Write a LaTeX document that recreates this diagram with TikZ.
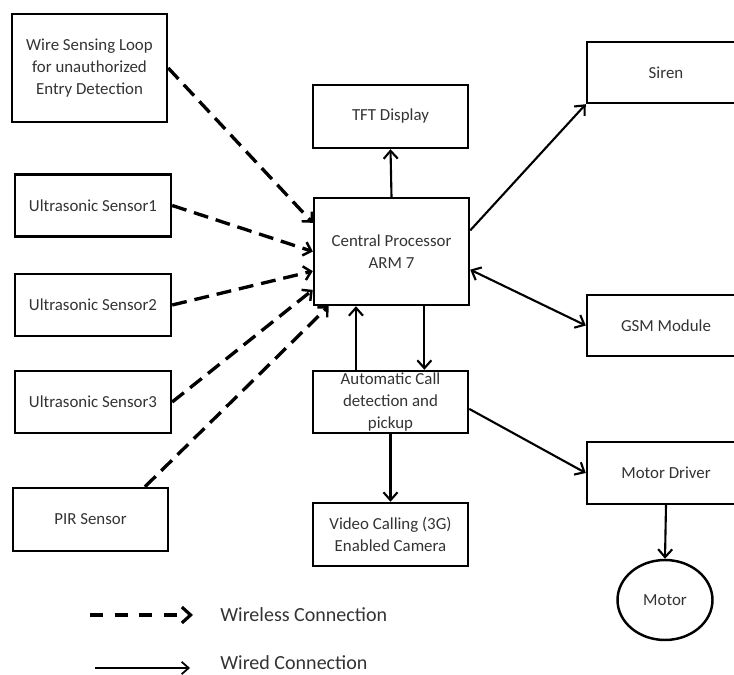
\documentclass[tikz,border=0pt]{standalone}
\usepackage{fontspec}
\setmainfont{Carlito}
\usetikzlibrary{arrows.meta,shapes.geometric}

\tikzset{
  blk/.style={draw, line width=1.4pt, minimum width=3.1cm, minimum height=1.24cm,
    align=center, inner sep=1pt, text=black!80, font=\fontsize{9.6}{12.4}\selectfont},
  wless/.style={dash pattern=on 8.5pt off 4.5pt, line width=1.9pt,
    -{Straight Barb[length=4pt,width=8pt,line width=1.4pt]}},
  wired/.style={line width=1.2pt, -{Straight Barb[length=4.5pt,width=8pt]}},
  lgd/.style={anchor=west, inner sep=0pt, text=black!80, font=\fontsize{11.4}{13}\selectfont},
}

\begin{document}
\begin{tikzpicture}[x=0.02cm, y=-0.02cm]
  \useasboundingbox (0,0) rectangle (734,675);

  % sensors
  \node[blk, minimum height=2.16cm] at (89.5,68) (loop) {Wire Sensing Loop\\for unauthorized\\Entry Detection};
  \node[blk, minimum width=3.12cm] at (93,205.5) (us1) {Ultrasonic Sensor1};
  \node[blk, minimum width=3.12cm] at (93,305) (us2) {Ultrasonic Sensor2};
  \node[blk, minimum width=3.12cm] at (93,402) (us3) {Ultrasonic Sensor3};
  \node[blk, minimum height=1.26cm] at (90.5,519.5) (pir) {PIR Sensor};

  % middle column
  \node[blk, minimum height=1.26cm] at (390.5,116.5) (tft) {TFT Display};
  \node[blk, minimum height=2.14cm] at (391.5,251.5) (cpu) {Central Processor\\ARM 7};
  \node[blk] at (390.5,402) (call) {Automatic Call\\detection and\\pickup};
  \node[blk, minimum height=1.26cm] at (390.5,534.5) (cam) {Video Calling (3G)\\Enabled Camera};

  % outputs
  \node[blk, minimum width=3.16cm, minimum height=1.22cm] at (666,72.5) (siren) {Siren};
  \node[blk, minimum width=3.16cm, minimum height=1.22cm] at (666,325.5) (gsm) {GSM Module};
  \node[blk, minimum width=3.16cm] at (666,473) (drv) {Motor Driver};
  \node[blk, ellipse, minimum width=1.9cm, minimum height=1.6cm] at (665,600) (motor) {Motor};

  % wireless links
  \draw [wless] (loop.east) -- (cpu.160);
  \draw [wless] (us1.east) -- (cpu.west);
  \draw [wless] (us2.east) -- (cpu.194);
  \draw [wless] (us3.east) -- (cpu.206);
  \draw [wless] (pir.31) -- (cpu.221);

  % wired links
  \draw [wired] (cpu.north) -- (tft.south);
  \draw [wired] (cpu.15) -- (siren.south west);
  \draw [wired, {Straight Barb[length=4.5pt,width=8pt]}-{Straight Barb[length=4.5pt,width=8pt]}] (cpu.-13) -- (gsm.west);
  \draw [wired] (call.137) -- (call.137 |- cpu.south);
  \draw [wired] (cpu.-59) -- (cpu.-59 |- call.north);
  \draw [wired] (call.south) -- (cam.north);
  \draw [wired] (call.-5) -- (drv.west);
  \draw [wired] (drv.south) -- (motor.north);

  % legend
  \coordinate (a0) at (90,615);
  \coordinate (a1) at (193,615);
  \coordinate (b0) at (95,668);
  \coordinate (b1) at (190,668);
  \node[lgd] at (220,615) (wl) {Wireless Connection};
  \node[lgd] at (220,663) (dl) {Wired Connection};
  \draw [line width=2.2pt, dash pattern=on 7.5pt off 6.5pt,
    -{Straight Barb[length=5pt,width=9pt,line width=1.8pt]}] (a0) -- (a1);
  \draw [line width=1pt, -{Straight Barb[length=4pt,width=7pt]}] (b0) -- (b1);
\end{tikzpicture}
\end{document}
